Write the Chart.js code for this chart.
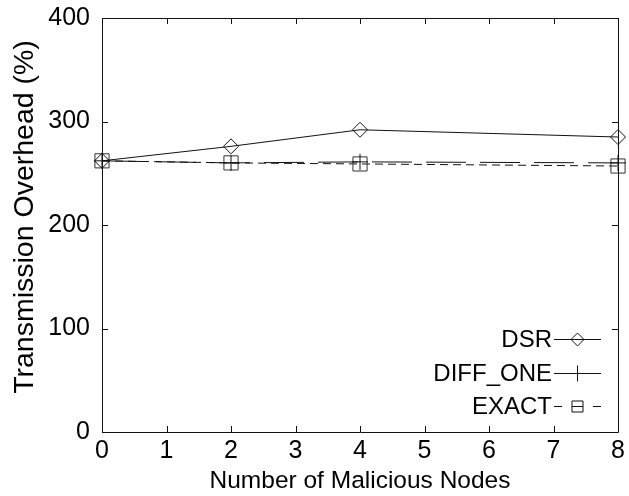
<!DOCTYPE html>
<html>
<head>
<meta charset="utf-8">
<script src="https://cdn.jsdelivr.net/npm/chart.js@4.4.1/dist/chart.umd.min.js"></script>
<style>
  html, body { margin: 0; padding: 0; background: #fff; }
  #wrap { width: 629px; height: 496px; position: relative; }
</style>
</head>
<body>
<div id="wrap"><canvas id="c" width="629" height="496"></canvas></div>
<script>
// ---- data ----
const xValues = [0, 2, 4, 8];
const seriesNames = ['DSR', 'DIFF_ONE', 'EXACT'];
const dsrValues = [262, 276, 292, 285];
const diffOneValues = [262, 260, 261, 260];
const exactValues = [262, 260, 259, 257];
const xTicks = [0, 1, 2, 3, 4, 5, 6, 7, 8];
const yTicks = [0, 100, 200, 300, 400];
const xTitle = 'Number of Malicious Nodes';
const yTitle = 'Transmission Overhead (%)';

const FONT = '"Liberation Sans", Arial, sans-serif';
const INK = '#111';
const NOFILL = 'rgba(0,0,0,0)';

function pts(vals) { return xValues.map((x, i) => ({ x: x, y: vals[i] })); }

const datasets = [
  { label: seriesNames[0], data: pts(dsrValues), borderColor: INK, borderWidth: 1, clip: false,
    pointStyle: 'rectRot', pointRadius: 7.5, pointBorderWidth: 1, pointBackgroundColor: NOFILL,
    pointBorderColor: INK, borderDash: [], legendDash: [], legendRadius: 6.5 },
  { label: seriesNames[1], data: pts(diffOneValues), borderColor: INK, borderWidth: 1, clip: false,
    pointStyle: 'cross', pointRadius: 8, pointBorderWidth: 1, pointBorderColor: INK,
    borderDash: [40, 14], legendDash: [], legendRadius: 8 },
  { label: seriesNames[2], data: pts(exactValues), borderColor: INK, borderWidth: 1, clip: false,
    pointStyle: 'rect', pointRadius: 10, pointBorderWidth: 1, pointBackgroundColor: NOFILL,
    pointBorderColor: '#333', borderDash: [8, 5], legendDash: [8, 10, 11, 10, 8], legendRadius: 7.8 }
];

// inward ticks on all four sides + frame + rotated y title
const framePlugin = {
  id: 'frame',
  afterDatasetsDraw(chart) {
    const ctx = chart.ctx, a = chart.chartArea;
    const xs = chart.scales.x, ys = chart.scales.y;
    ctx.save();
    ctx.strokeStyle = INK;
    ctx.lineWidth = 1;
    ctx.beginPath();
    ctx.rect(Math.round(a.left) + 0.5, Math.round(a.top) + 0.5,
             Math.round(a.right - a.left), Math.round(a.bottom - a.top));
    ctx.stroke();
    const L = 6;
    ctx.beginPath();
    xTicks.forEach(v => {
      const px = Math.round(xs.getPixelForValue(v)) + 0.5;
      ctx.moveTo(px, a.bottom); ctx.lineTo(px, a.bottom - L);
      ctx.moveTo(px, a.top); ctx.lineTo(px, a.top + L);
    });
    yTicks.forEach(v => {
      const py = Math.round(ys.getPixelForValue(v)) + 0.5;
      ctx.moveTo(a.left, py); ctx.lineTo(a.left + L, py);
      ctx.moveTo(a.right, py); ctx.lineTo(a.right - L, py);
    });
    ctx.stroke();
    // y axis title
    ctx.translate(25, (a.top + a.bottom) / 2 - 8);
    ctx.rotate(-Math.PI / 2);
    ctx.font = '28.5px ' + FONT;
    ctx.fillStyle = '#000';
    ctx.textAlign = 'center';
    ctx.textBaseline = 'middle';
    ctx.fillText(yTitle, 0, 0);
    ctx.restore();
  }
};

// legend: text right-aligned, then sample line with marker (gnuplot style)
const legendPlugin = {
  id: 'gpLegend',
  afterDatasetsDraw(chart) {
    const ctx = chart.ctx, a = chart.chartArea;
    const rows = [339, 373, 406];
    const textRight = a.right - 66;
    const x0 = a.right - 64, x1 = a.right - 17;
    ctx.save();
    ctx.font = '24px ' + FONT;
    ctx.textAlign = 'right';
    ctx.textBaseline = 'middle';
    chart.data.datasets.forEach((ds, i) => {
      const y = rows[i];
      ctx.fillStyle = '#000';
      ctx.fillText(ds.label, textRight, y + 1);
      ctx.strokeStyle = INK;
      ctx.lineWidth = 1;
      ctx.setLineDash(ds.legendDash);
      ctx.beginPath();
      ctx.moveTo(x0, y + 0.5); ctx.lineTo(x1, y + 0.5);
      ctx.stroke();
      ctx.setLineDash([]);
      ctx.fillStyle = NOFILL;
      Chart.helpers.drawPoint(ctx, { pointStyle: ds.pointStyle, radius: ds.legendRadius, borderWidth: 1 },
        (x0 + x1) / 2, y + 0.5);
    });
    ctx.restore();
  }
};

new Chart(document.getElementById('c'), {
  type: 'line',
  data: { datasets: datasets },
  options: {
    responsive: false,
    animation: false,
    devicePixelRatio: 1,
    layout: { padding: { left: 0, right: 8, top: 18, bottom: 0 } },
    plugins: { legend: { display: false }, tooltip: { enabled: false } },
    elements: { line: { tension: 0, fill: false } },
    scales: {
      x: {
        type: 'linear', min: 0, max: 8,
        afterFit(s) { s.height = 64; s.paddingLeft = 0; s.paddingRight = 0; },
        afterBuildTicks(s) { s.ticks = xTicks.map(v => ({ value: v })); },
        grid: { display: false, drawTicks: false },
        border: { display: false },
        ticks: { color: '#000', font: { family: FONT, size: 25 }, padding: 4, maxRotation: 0, autoSkip: false },
        title: { display: true, text: xTitle, color: '#000', font: { family: FONT, size: 24.5 }, padding: { top: 0, bottom: 0 } }
      },
      y: {
        type: 'linear', min: 0, max: 400,
        afterFit(s) { s.width = 102; s.paddingTop = 0; s.paddingBottom = 0; },
        afterBuildTicks(s) { s.ticks = yTicks.map(v => ({ value: v })); },
        grid: { display: false, drawTicks: false },
        border: { display: false },
        ticks: { color: '#000', font: { family: FONT, size: 25 }, padding: 12, autoSkip: false },
        title: { display: false }
      }
    }
  },
  plugins: [framePlugin, legendPlugin]
});
</script>
</body>
</html>
